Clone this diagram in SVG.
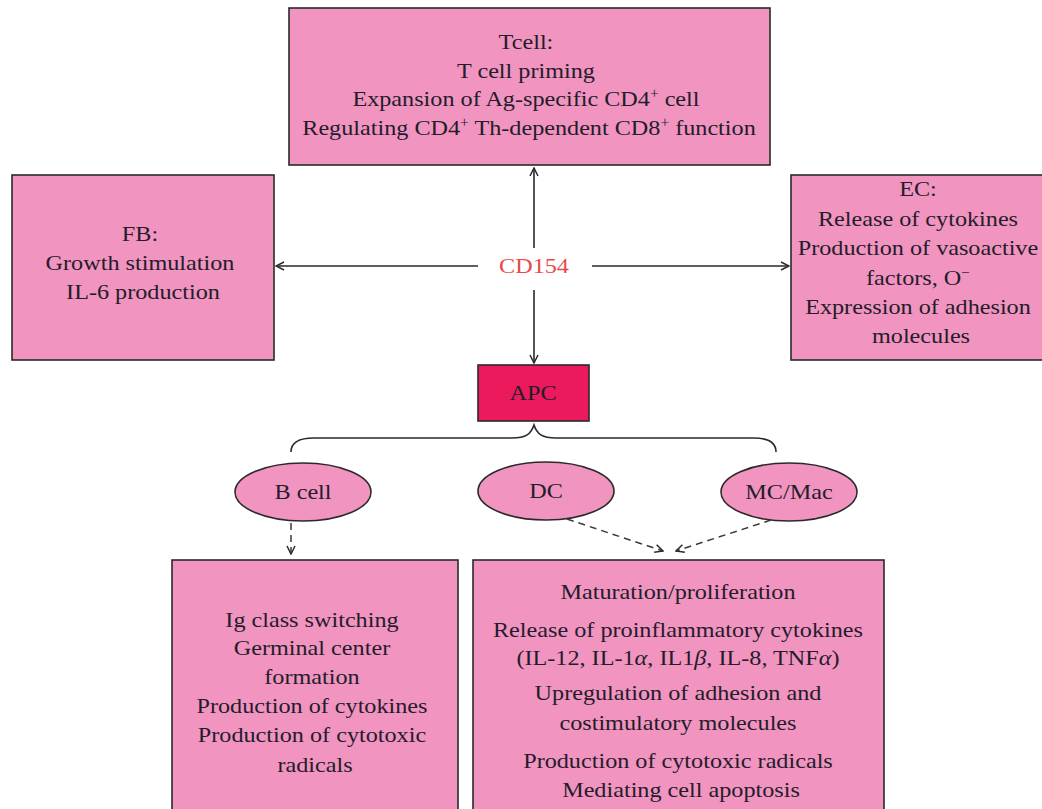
<svg xmlns="http://www.w3.org/2000/svg" width="1042" height="809" viewBox="0 0 1042 809">
<style>
.box{fill:#f194bf;stroke:#2a2a2a;stroke-width:1.6}
.apc{fill:#ea1a5c;stroke:#2a2a2a;stroke-width:1.6}
.t{font-family:"Liberation Serif","Times New Roman",serif;font-size:22px;fill:#241c2c;text-anchor:middle}
.red{fill:#ea4848}
.c{stroke:#2a2a2a;stroke-width:1.6;fill:none}
.d{stroke:#3a3a3a;stroke-width:1.5;fill:none;stroke-dasharray:7 5}
.sup{font-size:14px}
</style>
<defs>
<marker id="ah" viewBox="0 0 10 10" refX="9" refY="5" markerWidth="10" markerHeight="10" markerUnits="userSpaceOnUse" orient="auto">
<path d="M1,1 L9,5 L1,9" fill="none" stroke="#2a2a2a" stroke-width="1.5"/>
</marker>
</defs>
<rect width="1042" height="809" fill="#ffffff"/>

<g id="tcell">
<rect class="box" x="289" y="8" width="481" height="157"/>
<text class="t" transform="translate(529 0) scale(1.1 1)">
<tspan x="0" y="49">Tcell:</tspan>
<tspan x="0" y="78">T cell priming</tspan>
<tspan x="0" y="106">Expansion of Ag-specific CD4<tspan class="sup" dy="-8">+</tspan><tspan dy="8"> cell</tspan></tspan>
<tspan x="0" y="135">Regulating CD4<tspan class="sup" dy="-8">+</tspan><tspan dy="8"> Th-dependent CD8</tspan><tspan class="sup" dy="-8">+</tspan><tspan dy="8"> function</tspan></tspan>
</text>
</g>

<g id="fb">
<rect class="box" x="12" y="175" width="262" height="185"/>
<text class="t" transform="translate(143 0) scale(1.1 1)">
<tspan x="0" y="241">FB:</tspan>
<tspan x="0" y="270">Growth stimulation</tspan>
<tspan x="0" y="299">IL-6 production</tspan>
</text>
</g>

<g id="ec">
<rect class="box" x="791" y="175" width="262" height="185"/>
<text class="t" transform="translate(921 0) scale(1.1 1)">
<tspan x="0" y="196">EC:</tspan>
<tspan x="0" y="226">Release of cytokines</tspan>
<tspan x="0" y="255">Production of vasoactive</tspan>
<tspan x="0" y="285">factors, O<tspan class="sup" dy="-8">−</tspan></tspan>
<tspan x="0" y="314">Expression of adhesion</tspan>
<tspan x="0" y="343">molecules</tspan>
</text>
</g>

<g id="cd154">
<text class="t red" transform="translate(534 0) scale(1.1 1)"><tspan x="0" y="273">CD154</tspan></text>
</g>

<g id="apc">
<rect class="apc" x="478" y="365" width="111" height="56"/>
<text class="t" transform="translate(533 0) scale(1.1 1)"><tspan x="0" y="400">APC</tspan></text>
</g>

<g id="brace">
<path class="c" d="M291,452 C291,443 299,438 314,438 L512,438 C526,438 531,434 534,425 C537,434 542,438 556,438 L754,438 C769,438 776,443 776,452"/>
</g>

<g id="bcell">
<ellipse class="box" cx="303" cy="492" rx="68" ry="29"/>
<text class="t" transform="translate(303 0) scale(1.1 1)"><tspan x="0" y="499">B cell</tspan></text>
</g>

<g id="dc">
<ellipse class="box" cx="546" cy="491" rx="68" ry="29"/>
<text class="t" transform="translate(546 0) scale(1.1 1)"><tspan x="0" y="498">DC</tspan></text>
</g>

<g id="mcmac">
<ellipse class="box" cx="789" cy="492" rx="68" ry="29"/>
<text class="t" transform="translate(789 0) scale(1.1 1)"><tspan x="0" y="499">MC/Mac</tspan></text>
</g>

<g id="bcell-effects">
<rect class="box" x="172" y="560" width="286" height="262"/>
<text class="t" transform="translate(315 0) scale(1.1 1)">
<tspan x="0" y="627">Ig class switching</tspan>
<tspan x="0" y="655">Germinal center</tspan>
<tspan x="0" y="684">formation</tspan>
<tspan x="0" y="713">Production of cytokines</tspan>
<tspan x="0" y="742">Production of cytotoxic</tspan>
<tspan x="0" y="772">radicals</tspan>
</text>
</g>

<g id="dc-mac-effects">
<rect class="box" x="473" y="560" width="411" height="262"/>
<text class="t" transform="translate(681 0) scale(1.1 1)">
<tspan x="0" y="599">Maturation/proliferation</tspan>
<tspan x="0" y="637">Release of proinflammatory cytokines</tspan>
<tspan x="0" y="665">(IL-12, IL-1<tspan font-style="italic">α</tspan>, IL1<tspan font-style="italic">β</tspan>, IL-8, TNF<tspan font-style="italic">α</tspan>)</tspan>
<tspan x="0" y="700">Upregulation of adhesion and</tspan>
<tspan x="0" y="730">costimulatory molecules</tspan>
<tspan x="0" y="768">Production of cytotoxic radicals</tspan>
<tspan x="0" y="797">Mediating cell apoptosis</tspan>
</text>
</g>

<g id="connectors">
<line class="c" x1="534" y1="248" x2="534" y2="168" marker-end="url(#ah)"/>
<line class="c" x1="478" y1="266" x2="276" y2="266" marker-end="url(#ah)"/>
<line class="c" x1="592" y1="266" x2="789" y2="266" marker-end="url(#ah)"/>
<line class="c" x1="534" y1="290" x2="534" y2="363" marker-end="url(#ah)"/>
<line class="d" x1="291" y1="523" x2="291" y2="554" marker-end="url(#ah)"/>
<line class="d" x1="567" y1="519" x2="663" y2="551" marker-end="url(#ah)"/>
<line class="d" x1="771" y1="520" x2="676" y2="551" marker-end="url(#ah)"/>
</g>
</svg>
